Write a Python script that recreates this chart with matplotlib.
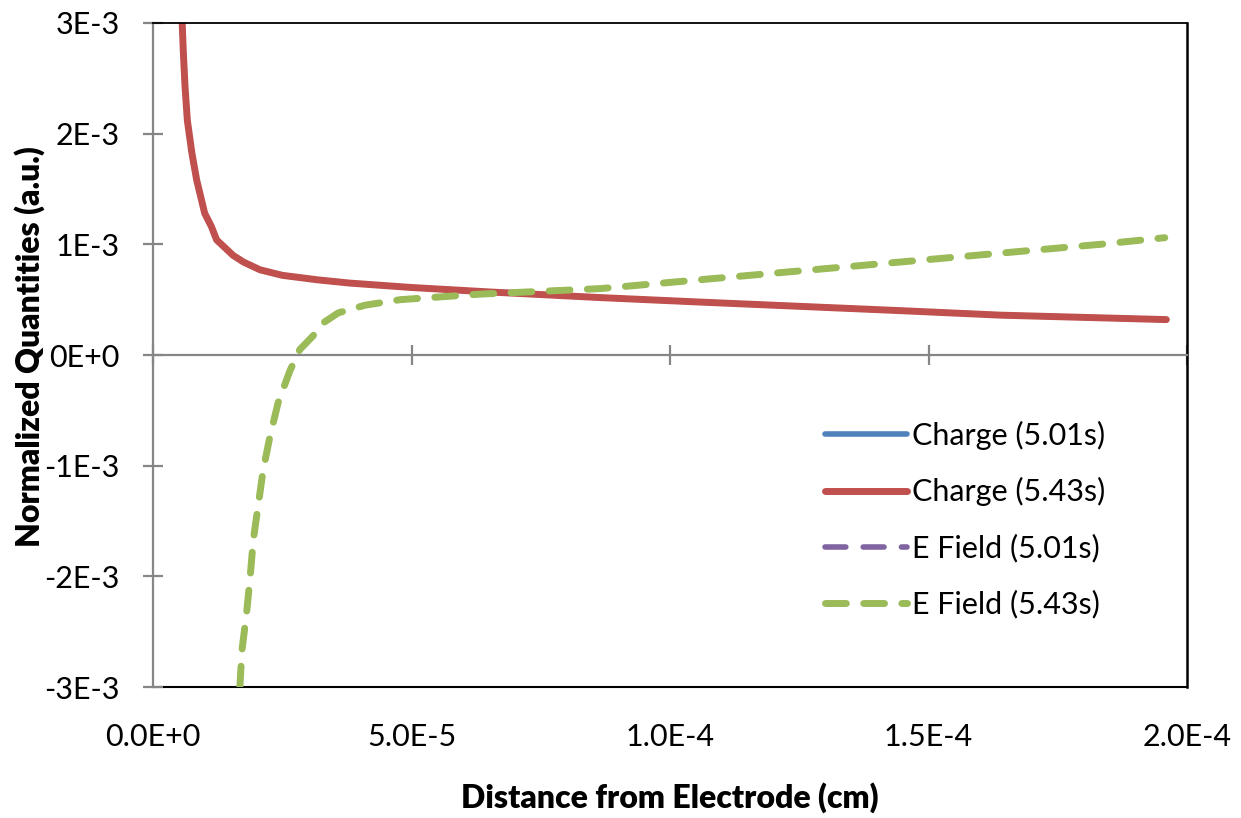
import matplotlib
matplotlib.use("Agg")
import matplotlib.pyplot as plt

plt.rcParams['font.family'] = ['Lato', 'DejaVu Sans']

# Charge (5.43s) - red
charge_x = [5.6e-6, 5.87e-6, 6.2e-6, 6.64e-6, 7.5e-6, 8.45e-6, 1.0e-5, 1.13e-5, 1.23e-5,
            1.55e-5, 1.75e-5, 2.07e-5, 2.5e-5, 3.17e-5, 3.8e-5, 5.0e-5, 6.5e-5, 8.6e-5,
            1.05e-4, 1.25e-4, 1.45e-4, 1.64e-4, 1.80e-4, 1.96e-4]
charge_y = [3.05e-3, 2.73e-3, 2.42e-3, 2.12e-3, 1.83e-3, 1.58e-3, 1.28e-3, 1.16e-3, 1.04e-3,
            0.90e-3, 0.84e-3, 0.77e-3, 0.72e-3, 0.68e-3, 0.65e-3, 0.61e-3, 0.57e-3, 0.52e-3,
            0.48e-3, 0.44e-3, 0.40e-3, 0.36e-3, 0.34e-3, 0.32e-3]

# E Field (5.43s) - green
efield_x = [1.68e-5, 1.72e-5, 1.81e-5, 1.88e-5, 1.94e-5, 2.04e-5, 2.13e-5, 2.26e-5, 2.42e-5,
            2.65e-5, 2.84e-5, 3.09e-5, 3.29e-5, 3.58e-5, 4.1e-5, 4.78e-5, 6.32e-5, 8.65e-5,
            1.058e-4, 1.251e-4, 1.445e-4, 1.638e-4, 1.832e-4, 1.957e-4]
efield_y = [-3.0e-3, -2.67e-3, -2.33e-3, -2.0e-3, -1.67e-3, -1.34e-3, -1.04e-3, -0.74e-3, -0.43e-3,
            -0.14e-3, 0.05e-3, 0.17e-3, 0.29e-3, 0.38e-3, 0.45e-3, 0.50e-3, 0.55e-3, 0.60e-3,
            0.68e-3, 0.76e-3, 0.84e-3, 0.92e-3, 1.00e-3, 1.06e-3]

labels = ['Charge (5.01s)', 'Charge (5.43s)', 'E Field (5.01s)', 'E Field (5.43s)']

x_ticks = [0, 5e-5, 1e-4, 1.5e-4, 2e-4]
x_tick_labels = ['0.0E+0', '5.0E-5', '1.0E-4', '1.5E-4', '2.0E-4']
y_ticks = [-3e-3, -2e-3, -1e-3, 0, 1e-3, 2e-3, 3e-3]
y_tick_labels = ['-3E-3', '-2E-3', '-1E-3', '0E+0', '1E-3', '2E-3', '3E-3']

fig = plt.figure(figsize=(12.41, 8.18), dpi=100)
ax = fig.add_axes([0.1233, 0.1601, 0.8332, 0.8118])

lw_main = 5.0
lw_thin = 4.0
d_on, d_off = 3.0, 2.5                      # dash pattern in units of the main line width
abs_on, abs_off = d_on * lw_main, d_off * lw_main

# Earlier-time series lie hidden under the later-time ones
ax.plot(charge_x, charge_y, color='#4F81BD', lw=lw_thin, solid_capstyle='round',
        solid_joinstyle='round', label=labels[0])
ax.plot(charge_x, charge_y, color='#C0504D', lw=lw_main, solid_capstyle='round',
        solid_joinstyle='round', label=labels[1])
ax.plot(efield_x, efield_y, color='#8064A2', lw=lw_thin,
        dashes=(abs_on / lw_thin, abs_off / lw_thin), dash_capstyle='round',
        dash_joinstyle='round', label=labels[2])
ax.plot(efield_x, efield_y, color='#9BBB59', lw=lw_main, dashes=(d_on, d_off),
        dash_capstyle='round', dash_joinstyle='round', label=labels[3])

ax.set_xlim(0, 2e-4)
ax.set_ylim(-3e-3, 3e-3)

gray = '#868686'
ax.spines['left'].set_color(gray)
ax.spines['left'].set_linewidth(1.6)
ax.spines['bottom'].set_position(('data', 0))
ax.spines['bottom'].set_color(gray)
ax.spines['bottom'].set_linewidth(1.6)
ax.spines['top'].set_color('black')
ax.spines['top'].set_linewidth(1.3)
ax.spines['right'].set_color('black')
ax.spines['right'].set_linewidth(1.8)

ax.set_xticks(x_ticks)
ax.set_yticks(y_ticks)
ax.set_yticklabels(y_tick_labels)
ax.tick_params(axis='x', direction='inout', length=14, width=1.6, color=gray, labelbottom=False)
ax.tick_params(axis='y', direction='inout', length=14, width=1.6, color=gray,
               labelsize=22, pad=17)

sec = ax.secondary_xaxis(0)
sec.set_xticks(x_ticks)
sec.set_xticklabels(x_tick_labels)
sec.tick_params(axis='x', length=0, labelsize=22, pad=26)
sec.spines['bottom'].set_color('black')
sec.spines['bottom'].set_linewidth(1.5)

sec.set_xlabel('Distance from Electrode (cm)', fontsize=23, fontweight='heavy', labelpad=22)
ax.set_ylabel('Normalized Quantities (a.u.)', fontsize=23, fontweight='heavy')
ax.yaxis.set_label_coords(-0.104, 0.512)

ax.legend(loc='center left', bbox_to_anchor=(0.65, 0.252), frameon=False, fontsize=22,
          handlelength=2.68, handletextpad=0.16, labelspacing=0.9, borderpad=0,
          borderaxespad=0)

fig.savefig('out.png', dpi=100)
